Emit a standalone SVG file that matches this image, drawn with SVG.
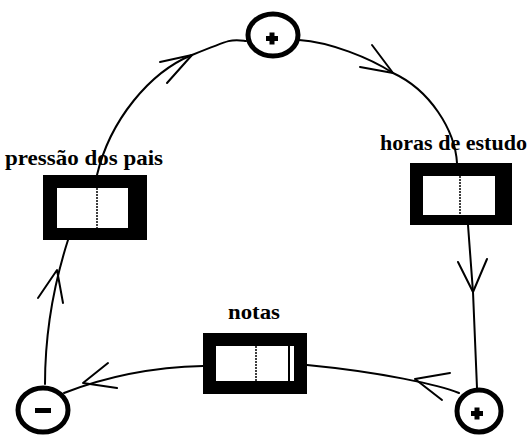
<svg xmlns="http://www.w3.org/2000/svg" width="530" height="437" viewBox="0 0 530 437">
<style>
.lbl{font-family:"Liberation Serif","DejaVu Serif",serif;font-weight:bold;font-size:21px;fill:#000}
.ring{fill:#fff;stroke:#000;stroke-width:5}
.sign{fill:#000}
.frame{fill:#000}
.win{fill:#fff}
.div{stroke:#000;stroke-width:1.5;stroke-dasharray:2 1;fill:none}
.conn{fill:none;stroke:#000;stroke-width:2;stroke-linecap:round;stroke-linejoin:round}
</style>
<rect width="530" height="437" fill="#fff"/>
<g id="connectors">
<path class="conn" d="M97,175 C110,120 150,72 192,55 S232,39 246,41"/>
<path class="conn" d="M160,62 L192,55 L167,83"/>
<path class="conn" d="M299,40 C330,42 370,58 393,73 C430,90 455,130 457,163"/>
<path class="conn" d="M372,45 L393,73 L360,67"/>
<path class="conn" d="M468,225 L473,292 L477,388"/>
<path class="conn" d="M458,262 L473,292 L487,259"/>
<path class="conn" d="M459,393 C440,385 380,372 307,365"/>
<path class="conn" d="M450,373 L415,379 L442,400"/>
<path class="conn" d="M203,366 C160,367 110,375 64,393"/>
<path class="conn" d="M108,363 L83,383 L117,388"/>
<path class="conn" d="M45,384 C45,340 52,290 68,240"/>
<path class="conn" d="M38,298 L57,270 L63,303"/>
</g>
<g id="top-plus">
<ellipse class="ring" cx="273" cy="35" rx="25" ry="21"/>
<rect class="sign" x="266" y="36" width="12" height="5"/>
<rect class="sign" x="269.5" y="32.5" width="5" height="12"/>
</g>
<g id="pressao-dos-pais">
<rect class="frame" x="43" y="175" width="104" height="65"/>
<rect class="win" x="57" y="188" width="71" height="40"/>
<line class="div" x1="97" y1="188" x2="97" y2="228"/>
<text class="lbl" x="5" y="165" textLength="158" lengthAdjust="spacingAndGlyphs">pressão dos pais</text>
</g>
<g id="horas-de-estudo">
<rect class="frame" x="410" y="163" width="102" height="62"/>
<rect class="win" x="423" y="176" width="72" height="39"/>
<line class="div" x1="460" y1="176" x2="460" y2="215"/>
<text class="lbl" x="380" y="150" textLength="147" lengthAdjust="spacingAndGlyphs">horas de estudo</text>
</g>
<g id="notas">
<rect class="frame" x="203" y="333" width="104" height="61"/>
<rect class="win" x="216" y="346" width="72" height="35"/>
<rect class="win" x="290" y="346" width="4" height="35"/>
<line class="div" x1="256" y1="346" x2="256" y2="381"/>
<text class="lbl" x="228" y="319" textLength="52" lengthAdjust="spacingAndGlyphs">notas</text>
</g>
<g id="bottom-minus">
<ellipse class="ring" cx="43" cy="410" rx="25" ry="22"/>
<rect class="sign" x="35" y="408" width="16" height="5"/>
</g>
<g id="bottom-plus">
<ellipse class="ring" cx="479" cy="411" rx="22" ry="21"/>
<rect class="sign" x="471" y="411" width="12" height="5"/>
<rect class="sign" x="474.5" y="407.5" width="5" height="12"/>
</g>
</svg>
